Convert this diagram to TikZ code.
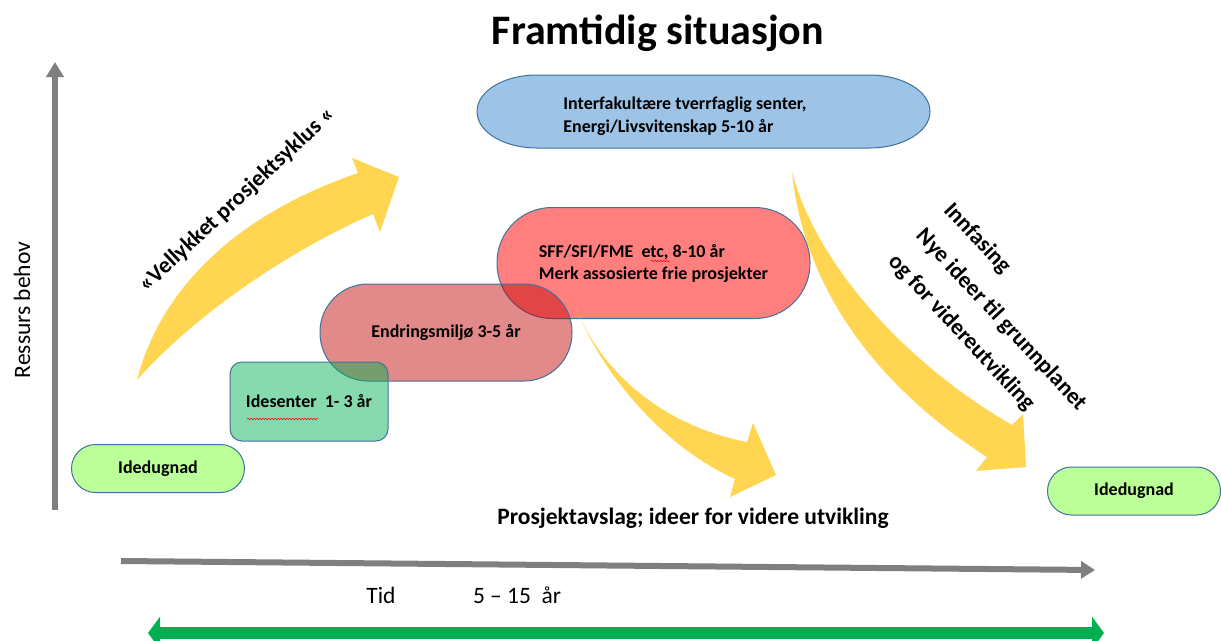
\documentclass[tikz,border=0pt]{standalone}
\usepackage{fontspec}
\setmainfont{Carlito}
\usetikzlibrary{positioning,arrows.meta,decorations.pathmorphing}

\definecolor{kantlinje}{HTML}{41719C}
\definecolor{dugnadgronn}{HTML}{BBFF99}
\definecolor{senterbla}{HTML}{9DC3E6}
\definecolor{pilgul}{HTML}{FFD551}
\definecolor{aksegra}{HTML}{7F7F7F}
\definecolor{tidgronn}{HTML}{00B050}
\definecolor{miljorod}{HTML}{C00000}

\begin{document}
\begin{tikzpicture}[x=1pt, y=-1pt,
    boks/.style = {draw=kantlinje, line width=1pt, inner sep=0pt, text opacity=1,
      font=\fontsize{18}{22}\selectfont\bfseries},
    dugnad/.style = {boks, fill=dugnadgronn, minimum width=173pt, minimum height=48pt, rounded corners=24pt},
    akse/.style = {draw=aksegra, line width=6pt},
    gul/.style = {fill=pilgul, draw=none},
    fet/.style = {inner sep=0pt, font=\fontsize{23}{28}\selectfont\bfseries},
    vanlig/.style = {inner sep=0pt, font=\fontsize{23.5}{28}\selectfont},
    stave/.style = {draw=red, line width=0.5pt, decorate,
      decoration={snake, amplitude=0.8pt, segment length=3pt}}]
  \useasboundingbox (0,0) rectangle (1221,640);

  \node[inner sep=0pt, font=\fontsize{42}{48}\selectfont\bfseries] (tittel) at (658,33) {Framtidig situasjon};

  % akser
  \coordinate (yfot) at (55,510);
  \coordinate (ytopp) at (55,62);
  \draw[akse, -{Triangle[width=17pt,length=15pt]}] (yfot) -- (ytopp);
  \node[vanlig, rotate=90] (ressurs) at (22,310) {Ressurs behov};
  \coordinate (xstart) at (121,561);
  \coordinate (xslutt) at (1095,570);
  \draw[akse, -{Triangle[width=17pt,length=14pt]}] (xstart) -- (xslutt);
  \node[vanlig] (tid) at (381,595) {Tid};
  \node[vanlig, right=77pt of tid] (periode) {5 – 15~~år};
  \coordinate (tidv) at (148,633);
  \coordinate (tidh) at (1104,633);
  \draw[draw=tidgronn, line width=12pt, {Triangle[width=32pt,length=12pt]}-{Triangle[width=32pt,length=12pt]}] (tidv) -- (tidh);

  % bokser
  \node[boks, fill=red, fill opacity=0.5, minimum width=313pt, minimum height=111pt,
    rounded corners=55pt, align=left] (sff) at (653.5,263)
    {SFF/SFI/FME~~etc, 8-10 år\\Merk assosierte frie prosjekter};
  \node[boks, fill=miljorod, fill opacity=0.46, minimum width=252pt, minimum height=97pt,
    rounded corners=48pt] (endring) at (446,332.5) {Endringsmiljø 3-5 år};
  \node[boks, fill=tidgronn, fill opacity=0.47, minimum width=158pt, minimum height=79pt,
    rounded corners=12pt] (idesenter) at (309,401.5) {Idesenter~~1- 3 år};
  \node[dugnad] (dugnad1) at (158,468.5) {Idedugnad};
  \node[dugnad] (dugnad2) at (1134,491) {Idedugnad};
  \draw[boks, fill=senterbla] (537,75) -- (870,75) .. controls (902,75) and (930,91) .. (930,111.5)
    .. controls (930,132) and (902,148) .. (870,148) -- (537,148)
    .. controls (504,148) and (477,132) .. (477,111.5)
    .. controls (477,91) and (504,75) .. (537,75) -- cycle;
  \node[inner sep=0pt, align=left, font=\fontsize{18}{23}\selectfont\bfseries] (senter) at (685,116.5)
    {Interfakultære tverrfaglig senter,\\Energi/Livsvitenskap 5-10 år};
  \draw[stave] (247,419) -- (318,419);
  \draw[stave] (651,261) -- (670,261);

  % piler
  \fill[gul] (137,380) .. controls (160,290) and (235,215) .. (358,173) -- (352,158) -- (399,177)
    -- (380,232) -- (373,214) .. controls (280,255) and (190,320) .. (137,380) -- cycle;
  \fill[gul] (575,306) .. controls (600,370) and (660,425) .. (747,442) -- (753,423) -- (776,475)
    -- (730,497) -- (735,479) .. controls (660,445) and (600,370) .. (575,306) -- cycle;
  \fill[gul] (792,172) .. controls (815,260) and (900,360) .. (1012,425) -- (1023,414) -- (1026,467)
    -- (976,471) -- (987,457) .. controls (890,395) and (805,300) .. (792,172) -- cycle;

  \node[fet, rotate=43] (syklus) at (237,200) {«Vellykket prosjektsyklus «};
  \node[fet, rotate=-47, align=left] (innfasing) at (1001,320)
    {Innfasing\\[10pt]Nye ideer til grunnplanet\\[10pt]og for videreutvikling};
  \node[fet, font=\fontsize{23.5}{28}\selectfont\bfseries] (avslag) at (693,518) {Prosjektavslag; ideer for videre utvikling};
\end{tikzpicture}
\end{document}
